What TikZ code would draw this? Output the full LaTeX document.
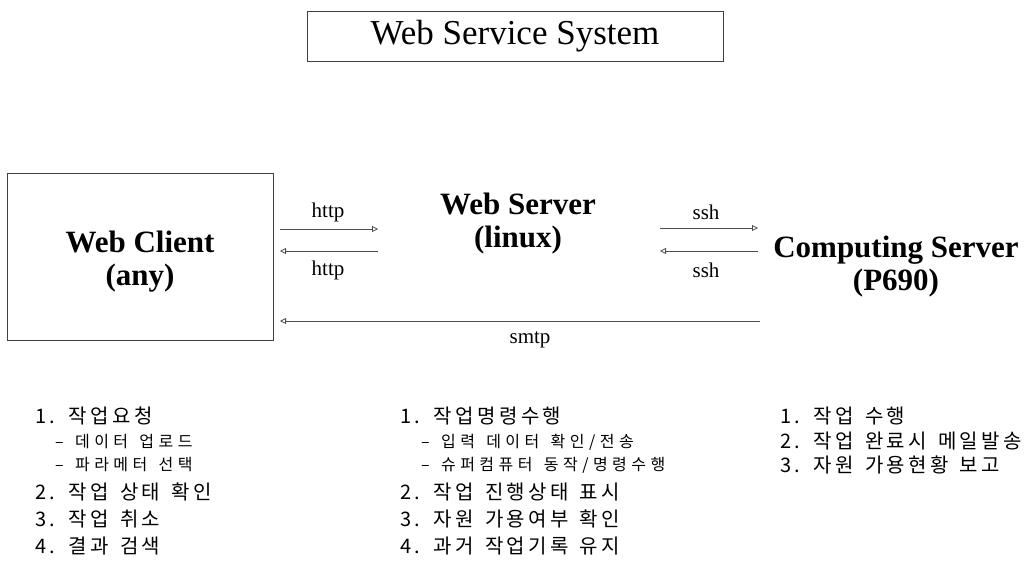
\documentclass[tikz,border=0pt]{standalone}
\usepackage{fontspec}
\setmainfont{Liberation Serif}
\newfontfamily\kr[LetterSpace=17,WordSpace=1.4]{Noto Sans CJK KR}
\newfontfamily\krsub[LetterSpace=28,WordSpace=1.4]{Noto Sans CJK KR}
\usetikzlibrary{arrows.meta}

\begin{document}
\begin{tikzpicture}[x=1pt,y=-1pt,
  frame/.style={draw=black!75, line width=0.8pt},
  titlebox/.style={frame, minimum width=416pt, minimum height=50pt, font=\fontsize{35}{38}\selectfont},
  hostname/.style={font=\fontsize{31}{33}\selectfont\bfseries, align=center},
  proto/.style={font=\fontsize{21}{24}\selectfont},
  link/.style={draw=black!70, line width=0.8pt, -{Triangle[open,length=6pt,width=6pt]}},
  item/.style={anchor=west, inner sep=0pt, font=\kr\fontsize{20}{22}\selectfont},
  subitem/.style={anchor=west, inner sep=0pt, font=\krsub\fontsize{16}{18}\selectfont},
]
\useasboundingbox (0,0) rectangle (1029,565);

% title
\node[titlebox] (title) at (515,36) {Web Service System};

% hosts
\node[frame, minimum width=266pt, minimum height=167pt] (client) at (140,256.5) {};
\node[hostname] (clientname) at (140,262) {Web Client\\(any)};
\node[hostname] (server) at (518,224) {Web Server\\(linux)};
\node[hostname] (hpc) at (896,267) {Computing Server\\(P690)};

% arrow end points
\coordinate (cA) at (280,229);
\coordinate (sA) at (378,229);
\coordinate (sB) at (378,251);
\coordinate (cB) at (280,251);
\coordinate (sC) at (660,228);
\coordinate (hC) at (758,228);
\coordinate (hD) at (758,251);
\coordinate (sD) at (660,251);
\coordinate (hE) at (760,321);
\coordinate (cE) at (280,321);

\draw[link] (cA) -- (sA);
\draw[link] (sB) -- (cB);
\draw[link] (sC) -- (hC);
\draw[link] (hD) -- (sD);
\draw[link] (hE) -- (cE);

\node[proto] (httpA) at (328,212) {http};
\node[proto] (httpB) at (328,270) {http};
\node[proto] (sshA) at (706,212) {ssh};
\node[proto] (sshB) at (706,270) {ssh};
\node[proto] (smtp) at (530,340) {smtp};

% client tasks
\node[item] (a1) at (35,416) {1. 작업요청};
\node[subitem] (a1a) at (55,442) {– 데이터 업로드};
\node[subitem] (a1b) at (55,465) {– 파라메터 선택};
\node[item] (a2) at (35,492) {2. 작업 상태 확인};
\node[item] (a3) at (35,519) {3. 작업 취소};
\node[item] (a4) at (35,546) {4. 결과 검색};

% web server tasks
\node[item] (b1) at (400,416) {1. 작업명령수행};
\node[subitem] (b1a) at (421,442) {– 입력 데이터 확인/전송};
\node[subitem] (b1b) at (421,465) {– 슈퍼컴퓨터 동작/명령수행};
\node[item] (b2) at (400,492) {2. 작업 진행상태 표시};
\node[item] (b3) at (400,519) {3. 자원 가용여부 확인};
\node[item] (b4) at (400,546) {4. 과거 작업기록 유지};

% computing server tasks
\node[item] (c1) at (780,416) {1. 작업 수행};
\node[item] (c2) at (780,441) {2. 작업 완료시 메일발송};
\node[item] (c3) at (780,465) {3. 자원 가용현황 보고};
\end{tikzpicture}
\end{document}
